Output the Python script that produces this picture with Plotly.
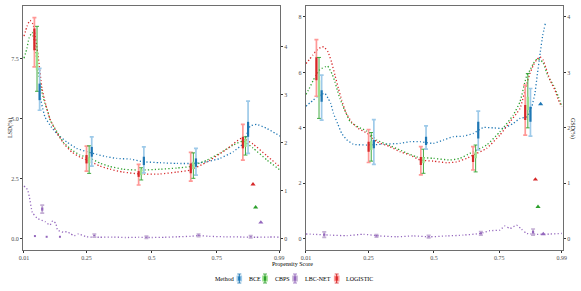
import plotly.graph_objects as go

# ---------------- data ----------------
METHODS = ["BCE", "CBPS", "LBC-NET", "LOGISTIC"]
DARK = {"BCE": "#1F77B4", "CBPS": "#2CA02C", "LBC-NET": "#9467BD", "LOGISTIC": "#D62728"}
LIGHT = {"BCE": "#9ECAE9", "CBPS": "#98DF8A", "LBC-NET": "#C5B0D5", "LOGISTIC": "#FF9896"}

X_TICKS = [0.01, 0.25, 0.5, 0.75, 0.99]
X_TICKTEXT = ["0.01", "0.25", "0.5", "0.75", "0.99"]
L_YTICKS = [0, 2.5, 5, 7.5]
L_YTICKTEXT = ["0.0", "2.5", "5.0", "7.5"]
R_YTICKS = [0, 2, 4, 6, 8]
SEC_TICKS = [0, 1, 2, 3, 4]

# Left panel curves (LSD %)
L_LOG_PS = [0.01, 0.0215, 0.033, 0.0445, 0.064, 0.079, 0.094, 0.11, 0.137, 0.164, 0.194, 0.225, 0.252,
            0.302, 0.34, 0.39, 0.455, 0.532, 0.597, 0.647, 0.712, 0.789, 0.846, 0.889, 0.943, 0.993]
L_LOG_Y = [8.45, 8.86, 9.11, 8.95, 7.65, 6.28, 5.57, 4.99, 4.40, 3.95, 3.61, 3.40, 3.28,
           3.03, 2.90, 2.78, 2.70, 2.70, 2.78, 2.86, 3.20, 3.74, 4.20, 3.95, 3.45, 2.99]
L_CBPS_PS = [0.01, 0.0215, 0.029, 0.041, 0.052, 0.064, 0.079, 0.09, 0.102, 0.11, 0.137, 0.16, 0.194, 0.225,
             0.263, 0.302, 0.34, 0.39, 0.455, 0.532, 0.597, 0.647, 0.712, 0.762, 0.812, 0.85, 0.889, 0.943, 0.993]
L_CBPS_Y = [7.53, 7.95, 8.36, 8.61, 8.07, 7.03, 6.11, 5.65, 5.28, 4.95, 4.45, 4.03, 3.70, 3.49,
            3.36, 3.15, 3.01, 2.90, 2.86, 2.90, 2.95, 3.01, 3.28, 3.57, 3.90, 4.07, 3.78, 3.28, 2.86]
L_BCE_PS = [0.07, 0.0906, 0.116, 0.142, 0.174, 0.212, 0.251, 0.289, 0.327, 0.366, 0.417, 0.468, 0.532,
            0.596, 0.66, 0.711, 0.762, 0.813, 0.852, 0.878, 0.903, 0.942, 0.993]
L_BCE_Y = [6.0, 5.08, 4.64, 4.32, 4.04, 3.77, 3.63, 3.52, 3.42, 3.35, 3.32, 3.21, 3.17,
           3.14, 3.14, 3.21, 3.35, 3.63, 3.98, 4.70, 4.77, 4.60, 4.28]
L_LBC_PS = [0.01, 0.0227, 0.03, 0.042, 0.061, 0.091, 0.11, 0.12, 0.132, 0.139, 0.161, 0.174, 0.187, 0.203,
            0.218, 0.25, 0.3, 0.35, 0.4, 0.45, 0.5, 0.55, 0.6, 0.65, 0.68, 0.72, 0.78, 0.85, 0.9, 0.95, 0.99]
L_LBC_Y = [2.20, 2.06, 1.78, 1.10, 0.85, 0.71, 0.57, 0.75, 0.64, 0.36, 0.27, 0.29, 0.22, 0.125,
           0.196, 0.08, 0.06, 0.07, 0.05, 0.06, 0.05, 0.06, 0.08, 0.10, 0.13, 0.10, 0.08, 0.07, 0.06, 0.07, 0.07]
L_LBC_STRAY_PS = [0.052, 0.097, 0.148]
L_LBC_STRAY_Y = [0.11, 0.08, 0.08]

# Right panel curves
R_LOG_PS = [0.01, 0.0226, 0.0357, 0.051, 0.07, 0.079, 0.095, 0.108, 0.121, 0.134, 0.147, 0.162, 0.185, 0.21,
            0.245, 0.281, 0.332, 0.37, 0.408, 0.447, 0.498, 0.549, 0.587, 0.626, 0.651, 0.702, 0.753, 0.792,
            0.83, 0.856, 0.868, 0.881, 0.894, 0.907, 0.919, 0.93, 0.945, 0.964, 0.977, 0.99]
R_LOG_Y = [6.32, 6.46, 6.62, 6.80, 6.92, 6.92, 6.73, 6.37, 5.90, 5.43, 5.00, 4.57, 4.21, 3.98,
           3.80, 3.50, 3.32, 3.14, 3.02, 2.84, 2.80, 2.74, 2.77, 2.90, 3.02, 3.26, 3.74, 4.22,
           4.70, 5.60, 5.96, 6.26, 6.46, 6.56, 6.44, 6.14, 5.72, 5.36, 5.00, 4.76]
R_CBPS_PS = [0.01, 0.0226, 0.038, 0.048, 0.061, 0.07, 0.083, 0.093, 0.111, 0.121, 0.13, 0.14, 0.153, 0.167,
             0.179, 0.21, 0.244, 0.281, 0.332, 0.37, 0.434, 0.498, 0.562, 0.60, 0.638, 0.702, 0.753, 0.804,
             0.83, 0.856, 0.868, 0.881, 0.896, 0.907, 0.919, 0.938, 0.958, 0.977, 0.99]
R_CBPS_Y = [5.21, 5.42, 5.72, 5.90, 6.08, 6.14, 6.20, 6.23, 5.92, 5.66, 5.36, 5.06, 4.75, 4.46,
            4.22, 4.03, 3.88, 3.56, 3.36, 3.20, 2.95, 2.90, 2.84, 2.90, 3.08, 3.38, 3.86, 4.46,
            4.94, 5.90, 6.08, 6.32, 6.50, 6.46, 6.34, 5.84, 5.54, 5.12, 4.78]
R_BCE_PS = [0.01, 0.025, 0.038, 0.053, 0.07, 0.083, 0.095, 0.105, 0.115, 0.131, 0.147, 0.166, 0.191, 0.243,
            0.306, 0.37, 0.408, 0.447, 0.498, 0.536, 0.574, 0.613, 0.651, 0.689, 0.728, 0.766, 0.804, 0.83,
            0.856, 0.875, 0.887, 0.896, 0.907, 0.917, 0.927]
R_BCE_Y = [4.78, 4.90, 5.00, 5.12, 5.21, 5.24, 5.06, 4.88, 4.53, 4.16, 3.80, 3.57, 3.41, 3.38,
           3.41, 3.44, 3.50, 3.50, 3.44, 3.56, 3.68, 3.70, 3.80, 4.01, 4.00, 3.98, 4.16, 4.34,
           4.40, 4.76, 5.24, 5.90, 6.68, 7.34, 7.76]
R_LBC_PS = [0.01, 0.038, 0.102, 0.166, 0.23, 0.293, 0.357, 0.421, 0.485, 0.549, 0.613, 0.677, 0.715, 0.753,
            0.772, 0.792, 0.817, 0.836, 0.856, 0.894, 0.945, 0.99]
R_LBC_Y = [0.17, 0.16, 0.13, 0.11, 0.16, 0.10, 0.07, 0.10, 0.07, 0.10, 0.13, 0.19, 0.29, 0.31,
           0.46, 0.37, 0.49, 0.34, 0.19, 0.16, 0.17, 0.19]

# Interval bars (bin positions per method)
BAR_PS = {"LOGISTIC": [0.05, 0.25, 0.45, 0.65, 0.85],
          "CBPS": [0.06, 0.26, 0.46, 0.66, 0.86],
          "BCE": [0.07, 0.27, 0.47, 0.67, 0.87],
          "LBC-NET": [0.08, 0.28, 0.48, 0.68, 0.88]}

# left panel bars: outer low/high, inner low/high
L_LOG_LO = [7.17, 2.82, 2.24, 2.40, 3.28]
L_LOG_HI = [9.225, 3.86, 3.10, 3.60, 4.77]
L_LOG_ILO = [7.86, 3.14, 2.58, 2.73, 3.77]
L_LOG_IHI = [8.77, 3.49, 2.82, 3.14, 4.25]
L_CBPS_LO = [6.15, 2.725, 2.45, 2.52, 3.49]
L_CBPS_HI = [8.86, 3.875, 2.96, 3.58, 4.25]
L_CBPS_ILO = [7.03, 3.15, 2.65, 2.90, 3.83]
L_CBPS_IHI = [7.79, 3.40, 2.90, 3.21, 4.18]
L_BCE_LO = [5.36, 3.03, 2.75, 2.65, 3.56]
L_BCE_HI = [7.11, 4.25, 3.83, 3.77, 5.74]
L_BCE_ILO = [5.78, 3.42, 3.07, 3.00, 4.25]
L_BCE_IHI = [6.47, 3.83, 3.42, 3.35, 4.875]
L_LBC_LO = [1.07, 0.07, 0.01, 0.09, 0.03]
L_LBC_HI = [1.40, 0.196, 0.11, 0.196, 0.13]
L_LBC_ILO = [1.17, 0.11, 0.04, 0.12, 0.06]
L_LBC_IHI = [1.30, 0.16, 0.08, 0.17, 0.10]

# right panel bars
R_LOG_LO = [5.14, 2.75, 2.30, 2.48, 3.74]
R_LOG_HI = [7.185, 3.94, 3.32, 3.32, 5.54]
R_LOG_ILO = [5.72, 3.14, 2.66, 2.77, 4.28]
R_LOG_IHI = [6.55, 3.50, 2.95, 3.02, 4.82]
R_CBPS_LO = [4.34, 2.80, 2.36, 2.41, 4.00]
R_CBPS_HI = [6.54, 3.83, 3.23, 3.38, 5.96]
R_CBPS_ILO = [5.11, 3.20, 2.72, 2.90, 4.64]
R_CBPS_IHI = [5.72, 3.52, 2.95, 3.14, 5.12]
R_BCE_LO = [4.28, 2.68, 3.23, 3.20, 3.70]
R_BCE_HI = [5.90, 4.30, 4.07, 4.60, 5.42]
R_BCE_ILO = [4.94, 3.26, 3.38, 3.62, 4.22]
R_BCE_IHI = [5.36, 3.56, 3.68, 4.22, 4.76]
R_LBC_LO = [0.05, 0.06, 0.03, 0.13, 0.13]
R_LBC_HI = [0.25, 0.15, 0.12, 0.26, 0.35]
R_LBC_ILO = [0.11, 0.08, 0.05, 0.16, 0.19]
R_LBC_IHI = [0.19, 0.13, 0.09, 0.23, 0.29]

# Overall GSD (triangles, secondary axis); None = not shown in that panel
TRI_METHODS = ["LOGISTIC", "CBPS", "BCE", "LBC-NET"]
TRI_PS = [0.889, 0.899, 0.909, 0.919]
L_TRI_GSD = [1.135, 0.655, None, 0.34]
R_TRI_GSD = [1.07, 0.575, 2.43, 0.085]

# ---------------- figure ----------------
W, H = 581, 291
ML, MR, MT, MB = 23, 18, 6, 41
PW, PH = W - ML - MR, H - MT - MB


def pxx(p):
    return (p - ML) / PW


def pxy(p):
    return (H - MB - p) / PH


fig = go.Figure()


def add_curve(ps, y, m, xa, ya):
    fig.add_trace(go.Scatter(x=ps, y=y, mode="lines", xaxis=xa, yaxis=ya, showlegend=False,
                             hoverinfo="skip",
                             line=dict(color=DARK[m], width=1.3, dash="1.2px,2.2px",
                                       shape="spline", smoothing=0.45)))


def add_bars(ps, lo, hi, ilo, ihi, m, xa, ya):
    c = [(a + b) / 2 for a, b in zip(ilo, ihi)]
    if m == "CBPS":
        oc, ot, ic, it = DARK[m], 0.9, LIGHT[m], 2.4
    else:
        oc, ot, ic, it = LIGHT[m], 1.7, DARK[m], 2.2
    fig.add_trace(go.Scatter(x=ps, y=c, mode="markers", xaxis=xa, yaxis=ya, showlegend=False,
                             hoverinfo="skip", marker=dict(size=1, color="rgba(0,0,0,0)"),
                             error_y=dict(type="data", symmetric=False,
                                          array=[h - v for h, v in zip(hi, c)],
                                          arrayminus=[v - l for l, v in zip(lo, c)],
                                          color=oc, thickness=ot, width=2)))
    fig.add_trace(go.Scatter(x=ps, y=c, mode="markers", xaxis=xa, yaxis=ya, showlegend=False,
                             hoverinfo="skip", marker=dict(size=1, color="rgba(0,0,0,0)"),
                             error_y=dict(type="data", symmetric=False,
                                          array=[h - v for h, v in zip(ihi, c)],
                                          arrayminus=[v - l for l, v in zip(ilo, c)],
                                          color=ic, thickness=it, width=0)))


# left panel
add_curve(L_LBC_PS, L_LBC_Y, "LBC-NET", "x", "y")
fig.add_trace(go.Scatter(x=L_LBC_STRAY_PS, y=L_LBC_STRAY_Y, mode="markers", xaxis="x", yaxis="y",
                         showlegend=False, hoverinfo="skip",
                         marker=dict(size=2, symbol="square", color=DARK["LBC-NET"])))
add_curve(L_BCE_PS, L_BCE_Y, "BCE", "x", "y")
add_curve(L_CBPS_PS, L_CBPS_Y, "CBPS", "x", "y")
add_curve(L_LOG_PS, L_LOG_Y, "LOGISTIC", "x", "y")
add_bars(BAR_PS["LOGISTIC"], L_LOG_LO, L_LOG_HI, L_LOG_ILO, L_LOG_IHI, "LOGISTIC", "x", "y")
add_bars(BAR_PS["CBPS"], L_CBPS_LO, L_CBPS_HI, L_CBPS_ILO, L_CBPS_IHI, "CBPS", "x", "y")
add_bars(BAR_PS["BCE"], L_BCE_LO, L_BCE_HI, L_BCE_ILO, L_BCE_IHI, "BCE", "x", "y")
add_bars(BAR_PS["LBC-NET"], L_LBC_LO, L_LBC_HI, L_LBC_ILO, L_LBC_IHI, "LBC-NET", "x", "y")
fig.add_trace(go.Scatter(x=TRI_PS, y=L_TRI_GSD, mode="markers", xaxis="x", yaxis="y2",
                         showlegend=False, hoverinfo="skip",
                         marker=dict(symbol="triangle-up", size=4.5,
                                     color=[DARK[m] for m in TRI_METHODS])))

# right panel
add_curve(R_LBC_PS, R_LBC_Y, "LBC-NET", "x2", "y3")
add_curve(R_BCE_PS, R_BCE_Y, "BCE", "x2", "y3")
add_curve(R_CBPS_PS, R_CBPS_Y, "CBPS", "x2", "y3")
add_curve(R_LOG_PS, R_LOG_Y, "LOGISTIC", "x2", "y3")
add_bars(BAR_PS["LOGISTIC"], R_LOG_LO, R_LOG_HI, R_LOG_ILO, R_LOG_IHI, "LOGISTIC", "x2", "y3")
add_bars(BAR_PS["CBPS"], R_CBPS_LO, R_CBPS_HI, R_CBPS_ILO, R_CBPS_IHI, "CBPS", "x2", "y3")
add_bars(BAR_PS["BCE"], R_BCE_LO, R_BCE_HI, R_BCE_ILO, R_BCE_IHI, "BCE", "x2", "y3")
add_bars(BAR_PS["LBC-NET"], R_LBC_LO, R_LBC_HI, R_LBC_ILO, R_LBC_IHI, "LBC-NET", "x2", "y3")
fig.add_trace(go.Scatter(x=TRI_PS, y=R_TRI_GSD, mode="markers", xaxis="x2", yaxis="y4",
                         showlegend=False, hoverinfo="skip",
                         marker=dict(symbol="triangle-up", size=4.5,
                                     color=[DARK[m] for m in TRI_METHODS])))

FONT = "Liberation Serif"
TICKFONT = dict(family=FONT, size=6, color="#4D4D4D")
LINEC = "#6E6E6E"

axcommon = dict(showgrid=False, zeroline=False, showline=True, linecolor=LINEC, linewidth=1,
                ticks="outside", ticklen=2, tickwidth=0.8, tickcolor="#333333", tickfont=TICKFONT,
                automargin=False)

L_YR = [-0.471, 9.708]
R_YR = [-0.407, 8.396]

fig.update_layout(
    width=W, height=H, margin=dict(l=ML, r=MR, t=MT, b=MB),
    paper_bgcolor="white", plot_bgcolor="white", showlegend=False,
    font=dict(family=FONT, size=6, color="#000000"),
    xaxis=dict(domain=[0, 0.476], range=[0.0062, 0.9927], tickvals=X_TICKS, ticktext=X_TICKTEXT,
               mirror=True, anchor="y", **axcommon),
    xaxis2=dict(domain=[0.5235, 1.0], range=[0.0089, 0.9947], tickvals=X_TICKS, ticktext=X_TICKTEXT,
                mirror=True, anchor="y3", **axcommon),
    yaxis=dict(range=L_YR, tickvals=L_YTICKS, ticktext=L_YTICKTEXT, anchor="x", **axcommon),
    yaxis2=dict(range=[v / 2 for v in L_YR], tickvals=SEC_TICKS, overlaying="y", side="right",
                anchor="x", **axcommon),
    yaxis3=dict(range=R_YR, tickvals=R_YTICKS, anchor="x2", **axcommon),
    yaxis4=dict(range=[v / 2 for v in R_YR], tickvals=SEC_TICKS, overlaying="y3", side="right",
                anchor="x2", **axcommon),
)

ann = [
    dict(text="Propensity Score", x=pxx(292), y=pxy(264), xanchor="center", yanchor="middle"),
    dict(text="LSD(%)", x=pxx(10), y=pxy(128), xanchor="center", yanchor="middle", textangle=-90),
    dict(text="GSD(%)", x=pxx(573), y=pxy(128), xanchor="center", yanchor="middle", textangle=90),
    dict(text="Method", x=pxx(213), y=pxy(278.5), xanchor="left", yanchor="middle"),
]
LEG_ICON_X = [239.3, 265.0, 295.0, 336.7]
LEG_TEXT_X = [246.7, 273.0, 302.7, 344.3]
shapes = []
for m, ix, tx in zip(METHODS, LEG_ICON_X, LEG_TEXT_X):
    ann.append(dict(text=m, x=pxx(tx), y=pxy(278.5), xanchor="left", yanchor="middle"))
    cy = 278.5
    shapes.append(dict(type="rect", xref="paper", yref="paper", x0=pxx(ix - 2.8), x1=pxx(ix + 2.8),
                       y0=pxy(cy + 3), y1=pxy(cy - 3), fillcolor=LIGHT[m], line=dict(width=0)))
    shapes.append(dict(type="line", xref="paper", yref="paper", x0=pxx(ix), x1=pxx(ix),
                       y0=pxy(cy + 4.5), y1=pxy(cy - 4.5), line=dict(color=DARK[m], width=1)))
    shapes.append(dict(type="line", xref="paper", yref="paper", x0=pxx(ix), x1=pxx(ix),
                       y0=pxy(cy + 2), y1=pxy(cy - 2), line=dict(color=DARK[m], width=2.2)))
    for cap in (cy - 4.5, cy + 4.5):
        shapes.append(dict(type="line", xref="paper", yref="paper", x0=pxx(ix - 2), x1=pxx(ix + 2),
                           y0=pxy(cap), y1=pxy(cap), line=dict(color=DARK[m], width=0.8)))

for a in ann:
    a.update(xref="paper", yref="paper", showarrow=False, font=dict(family=FONT, size=6, color="#000000"))
fig.update_layout(annotations=ann, shapes=shapes)

fig.write_html("out.html", config={"displayModeBar": False},
               post_script="document.body.style.margin='0px';")
